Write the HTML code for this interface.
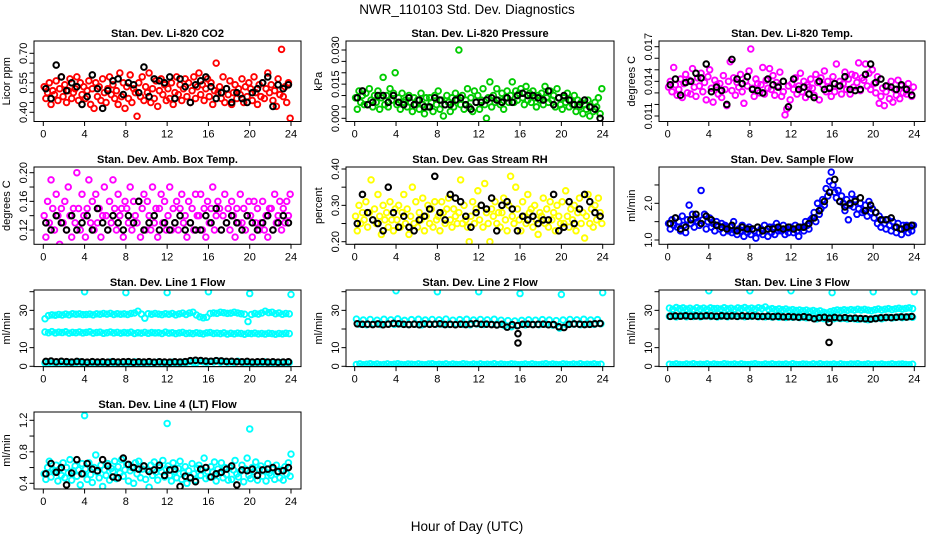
<!DOCTYPE html>
<html><head><meta charset="utf-8"><title>NWR_110103 Std. Dev. Diagnostics</title>
<style>
html,body{margin:0;padding:0;background:#fff;}
svg{display:block;font-family:"Liberation Sans",Arial,sans-serif;}
</style></head>
<body>
<svg id="chart" width="936" height="540" viewBox="0 0 936 540" xmlns="http://www.w3.org/2000/svg">
<rect x="0" y="0" width="936" height="540" fill="#fff"/>
<text x="467" y="14" font-size="13.5" text-anchor="middle">NWR_110103  Std. Dev. Diagnostics</text>
<text x="467" y="531" font-size="13.5" text-anchor="middle">Hour of Day (UTC)</text>
</svg>
<script>
// ---------- data ----------
const hourTicks = [0,4,8,12,16,20,24];
const spikeHours = [4,8,12,16,20,24];

const co2Color = [.53,.47,.50,.55,.44,.51,.49,.56,.46,.52,.58,.48,.54,.45,.51,.57,.47,.50,.52,.58,.46,.55,.49,.53,.47,.51,.56,.44,.52,.42,.55,.48,.53,.46,.57,.50,.45,.52,.58,.49,.54,.47,.51,.44,.60,.48,.55,.42,.53,.47,.59,.45,.52,.50,.38,.55,.48,.58,.46,.53,.50,.60,.45,.52,.47,.56,.43,.51,.57,.49,.54,.46,.52,.47,.55,.44,.50,.58,.49,.54,.46,.52,.57,.48,.55,.45,.51,.58,.47,.53,.60,.49,.54,.46,.52,.57,.48,.55,.44,.51,.65,.50,.53,.47,.58,.45,.52,.49,.56,.44,.50,.54,.47,.52,.49,.57,.45,.53,.48,.55,.52,.46,.58,.50,.44,.54,.48,.55,.47,.52,.60,.50,.54,.46,.51,.43,.57,.49,.72,.48,.53,.45,.55,.37];
const co2Black = [.52,.47,.64,.58,.51,.55,.53,.44,.48,.59,.52,.42,.51,.56,.57,.49,.55,.54,.50,.63,.48,.57,.56,.55,.58,.47,.57,.53,.45,.54,.56,.58,.53,.47,.50,.52,.45,.50,.47,.45,.50,.52,.55,.58,.43,.54,.52,.54];

const presColor = [.009,.004,.012,.007,.010,.006,.011,.006,.013,.008,.005,.010,.007,.012,.004,.009,.018,.006,.010,.005,.013,.008,.011,.020,.006,.009,.004,.011,.007,.008,.005,.010,.007,.003,.009,.006,.008,.004,.011,.006,.002,.009,.005,.009,.007,.003,.010,.006,.012,.004,.008,.001,.006,.010,.007,.003,.009,.005,.011,.008,.030,.006,.010,.004,.008,.013,.005,.009,.003,.012,.007,.010,.004,.008,.013,.006,.000,.009,.016,.005,.010,.007,.013,.008,.006,.011,.004,.009,.012,.007,.010,.016,.007,.012,.008,.011,.013,.009,.006,.014,.008,.011,.007,.012,.009,.005,.010,.008,.011,.006,.014,.009,.007,.012,.008,.010,.005,.013,.009,.006,.004,.009,.007,.011,.005,.008,.006,.010,.003,.008,.005,.007,.002,.006,.004,.008,.001,.005,.003,.007,.005,.009,.002,.013];
const presBlack = [.009,.012,.006,.007,.010,.010,.007,.010,.007,.006,.009,.006,.008,.005,.005,.009,.008,.006,.006,.008,.009,.006,.004,.007,.007,.008,.009,.008,.007,.009,.007,.010,.011,.010,.010,.009,.008,.012,.006,.009,.010,.008,.006,.006,.008,.005,.004,.000];

const tempColor = [.0135,.0140,.0131,.0152,.0137,.0128,.0133,.0142,.0126,.0138,.0146,.0130,.0141,.0129,.0151,.0135,.0127,.0143,.0136,.0147,.0131,.0139,.0124,.0144,.0150,.0134,.0122,.0141,.0137,.0129,.0138,.0126,.0145,.0133,.0119,.0140,.0157,.0132,.0143,.0128,.0139,.0135,.0146,.0131,.0121,.0140,.0136,.0149,.0168,.0134,.0127,.0142,.0138,.0130,.0137,.0152,.0129,.0141,.0134,.0151,.0133,.0145,.0128,.0139,.0136,.0148,.0127,.0131,.0111,.0116,.0136,.0124,.0138,.0133,.0143,.0129,.0136,.0147,.0131,.0140,.0126,.0137,.0135,.0142,.0134,.0128,.0146,.0139,.0124,.0143,.0137,.0149,.0131,.0140,.0135,.0127,.0144,.0131,.0155,.0136,.0140,.0129,.0138,.0148,.0133,.0142,.0129,.0146,.0135,.0145,.0139,.0156,.0132,.0143,.0141,.0155,.0136,.0147,.0133,.0150,.0138,.0130,.0144,.0121,.0127,.0134,.0119,.0131,.0136,.0125,.0140,.0122,.0133,.0128,.0141,.0125,.0136,.0130,.0134,.0129,.0138,.0131,.0127,.0135];
const tempBlack = [.0137,.0142,.0128,.0139,.0140,.0147,.0143,.0155,.0131,.0135,.0132,.0120,.0159,.0142,.0138,.0144,.0133,.0132,.0130,.0142,.0137,.0135,.0140,.0118,.0142,.0133,.0135,.0129,.0126,.0140,.0133,.0134,.0138,.0136,.0144,.0133,.0132,.0133,.0146,.0155,.0139,.0142,.0136,.0135,.0133,.0137,.0133,.0128];

const ambColor = [.14,.11,.16,.13,.19,.15,.12,.17,.14,.10,.15,.13,.16,.12,.18,.14,.11,.15,.13,.20,.15,.12,.17,.14,.11,.15,.19,.13,.16,.12,.17,.13,.15,.11,.14,.18,.14,.12,.16,.13,.19,.15,.12,.17,.14,.15,.11,.16,.15,.13,.18,.12,.16,.14,.13,.16,.11,.15,.17,.12,.16,.14,.12,.18,.13,.15,.11,.15,.17,.13,.16,.12,.14,.18,.12,.15,.13,.16,.12,.15,.17,.13,.14,.11,.16,.13,.15,.12,.17,.14,.14,.17,.12,.15,.11,.16,.13,.15,.18,.12,.14,.16,.15,.12,.14,.17,.13,.15,.12,.16,.14,.11,.15,.13,.17,.13,.15,.12,.14,.16,.14,.11,.16,.13,.15,.12,.13,.16,.12,.14,.11,.15,.15,.12,.17,.13,.14,.16,.12,.15,.13,.16,.14,.17];
const ambBlack = [.13,.12,.14,.13,.12,.14,.12,.13,.14,.12,.15,.13,.12,.14,.13,.12,.14,.13,.16,.12,.13,.14,.12,.13,.12,.13,.14,.12,.13,.12,.12,.14,.13,.15,.12,.13,.14,.13,.12,.14,.13,.12,.13,.14,.12,.13,.14,.13];

const rhColor = [.27,.23,.30,.25,.28,.26,.31,.24,.28,.37,.26,.29,.25,.33,.27,.22,.30,.26,.28,.24,.31,.26,.23,.29,.26,.30,.24,.28,.33,.25,.29,.22,.27,.35,.25,.31,.24,.28,.26,.32,.23,.27,.30,.25,.29,.24,.31,.26,.27,.23,.31,.28,.25,.29,.32,.26,.24,.29,.27,.25,.28,.37,.25,.30,.26,.24,.20,.27,.31,.25,.29,.34,.26,.30,.24,.36,.28,.25,.20,.29,.27,.31,.25,.28,.24,.28,.32,.26,.23,.30,.38,.27,.25,.35,.29,.26,.23,.31,.27,.25,.33,.28,.29,.24,.30,.26,.22,.28,.27,.32,.25,.29,.24,.31,.26,.28,.23,.30,.27,.25,.31,.25,.34,.27,.24,.29,.26,.30,.23,.28,.32,.25,.28,.21,.27,.33,.25,.29,.24,.30,.26,.32,.28,.25];
const rhBlack = [.25,.33,.28,.26,.25,.23,.35,.28,.24,.27,.24,.23,.26,.27,.29,.38,.28,.26,.33,.32,.31,.27,.24,.28,.30,.29,.32,.23,.30,.31,.29,.23,.27,.26,.27,.25,.26,.26,.33,.23,.24,.31,.25,.29,.33,.31,.28,.27];

const flowColor = [1.45,1.30,1.55,1.40,1.60,1.35,1.50,1.25,1.65,1.40,1.20,1.55,1.95,1.45,1.70,1.35,1.60,1.50,1.40,2.35,1.55,1.70,1.30,1.50,1.60,1.35,1.45,1.25,1.50,1.40,1.30,1.45,1.20,1.40,1.35,1.25,1.35,1.20,1.50,1.25,1.15,1.30,1.25,1.40,1.10,1.30,1.20,1.35,1.15,1.30,1.25,1.05,1.35,1.20,1.30,1.15,1.40,1.25,1.10,1.35,1.20,1.35,1.15,1.45,1.25,1.30,1.25,1.40,1.15,1.30,1.20,1.35,1.30,1.20,1.40,1.25,1.10,1.35,1.35,1.25,1.50,1.40,1.30,1.55,1.60,1.75,1.50,2.00,1.70,1.85,2.10,1.95,2.40,2.20,2.60,2.85,2.50,2.30,2.15,2.35,2.05,2.20,2.00,1.80,2.10,1.55,1.95,2.25,1.90,2.10,1.70,1.85,2.00,1.75,1.80,1.95,1.65,2.05,1.75,1.85,1.60,1.75,1.45,1.65,1.35,1.55,1.45,1.30,1.55,1.40,1.25,1.50,1.35,1.20,1.45,1.30,1.15,1.40,1.30,1.40,1.20,1.35,1.25,1.40];
const flowBlack = [1.45,1.60,1.30,1.35,1.55,1.70,1.45,1.65,1.55,1.40,1.35,1.30,1.40,1.25,1.35,1.30,1.30,1.35,1.25,1.30,1.30,1.35,1.30,1.35,1.30,1.35,1.35,1.45,1.60,1.80,2.05,2.30,2.65,2.05,1.90,2.00,2.05,2.15,1.80,1.95,1.75,1.55,1.55,1.60,1.35,1.30,1.35,1.40];

const l1High = [25.5,27.2,27.6,27.4,27.8,27.5,28.0,27.6,28.2,27.9,28.1,27.7,27.8,28.0,27.6,28.1,27.9,28.3,28.0,28.4,27.8,28.2,27.9,28.1,27.8,28.3,28.6,29.5,28.0,25.8,28.2,27.9,28.3,28.0,27.7,28.2,27.9,28.3,27.6,28.1,28.5,27.8,28.6,29.0,27.5,26.5,26.0,26.3,28.3,28.6,28.4,29.0,28.7,28.4,28.5,29.0,28.6,28.2,27.9,24.0,27.8,28.3,28.0,28.6,29.5,28.8,29.0,28.2,28.6,27.9,28.3,28.1];
const l1Mid = [18.4,18.0,18.6,17.9,18.3,18.1,18.5,17.8,18.2,18.0,18.4,17.9,18.2,18.5,17.8,18.1,18.3,17.7,18.0,18.4,17.9,18.2,17.8,18.1,17.9,18.3,17.6,18.0,17.8,18.2,17.7,18.1,17.9,18.0,17.6,18.3,17.8,18.0,17.5,17.9,18.2,17.6,17.8,17.5,18.0,17.7,17.4,17.9,18.1,17.6,17.8,17.5,17.9,17.3,17.7,17.4,17.8,17.6,17.2,17.7,17.5,17.8,17.4,17.6,17.3,17.7,17.5,17.2,17.6,17.4,17.7,17.5];
const l1Low = [1.8,2.2,1.5,2.0,1.6,2.3,1.7,2.1,1.5,1.9,2.4,1.6,2.0,1.7,2.2,1.5,1.9,2.1,1.6,2.3,1.8,2.0,1.5,2.2,1.7,1.9,2.4,1.6,2.0,1.8,2.1,1.5,1.9,2.3,1.7,2.0,1.6,2.2,1.8,1.5,2.1,1.9,2.6,2.2,2.0,2.8,2.4,2.1,2.6,2.3,2.9,2.2,2.5,2.1,2.4,2.0,2.7,2.3,1.9,2.2,2.0,1.7,2.1,1.8,2.3,1.6,2.0,1.9,1.7,2.2,1.8,2.0];
const l1Spike = [40,39.5,39.5,40,39,38.5];
const l1Black = [2.6,2.8,2.4,2.7,2.5,2.3,2.6,2.4,2.2,2.5,2.3,2.4,2.2,2.5,2.3,2.4,2.5,2.2,2.4,2.3,2.5,2.2,2.4,2.3,2.2,2.4,2.3,2.5,3.0,3.2,3.1,2.8,2.7,3.0,2.9,2.6,2.7,2.5,2.4,2.6,2.3,2.4,2.5,2.3,2.4,2.2,2.3,2.4];

const l2High = [25.3,22.6,24.8,22.3,25.1,22.9,24.7,22.4,25.2,22.7,24.9,22.5,25.4,22.8,24.6,22.4,25.0,22.6,25.2,22.3,24.8,22.9,25.1,22.5,24.9,22.6,25.3,22.4,24.7,22.8,25.0,22.5,25.2,22.3,24.8,22.7,25.1,22.4,24.9,22.6,25.2,22.3,24.7,21.8,24.5,21.2,24.3,22.0,24.6,22.2,24.9,22.5,24.7,22.3,25.0,22.6,24.8,22.1,24.5,20.5,24.8,22.4,25.1,22.6,24.9,22.3,25.2,22.7,24.8,22.5,25.0,22.8];
const l2Low = [1.0,1.3,0.8,1.1,1.4,0.9,1.2,0.8,1.0,1.3,0.9,1.1,1.4,1.0,0.8,1.2,1.1,0.9,1.3,1.0,0.8,1.2,1.4,0.9,1.1,1.0,1.3,0.8,1.2,1.0,0.9,1.4,1.1,0.8,1.2,1.0,1.3,0.9,1.1,1.0,1.4,0.8,1.2,1.0,0.9,1.3,1.1,0.8,1.0,1.2,0.9,1.3,1.0,0.8,1.1,1.4,0.9,1.2,1.0,0.8,1.3,1.1,0.9,1.2,1.0,1.4,0.8,1.1,1.0,1.3,0.9,1.1];
const l2Spike = [40.5,40,40,39,38.5,39.5];
const l2Black = [22.8,22.5,22.6,22.4,22.7,22.3,22.6,23.0,22.8,22.5,22.4,22.6,22.3,22.7,22.5,22.6,22.8,22.4,22.5,22.3,22.6,22.4,22.7,22.9,22.5,22.6,22.4,22.2,22.5,21.0,22.3,21.8,22.5,22.6,22.4,22.5,22.6,22.3,22.4,21.2,20.8,22.5,22.7,22.6,22.4,22.5,22.8,23.0];
const l2BlackExtraHours = [15.8,15.8];
const l2BlackExtra = [17.5,12.5];

const l3Top = [31.2,30.6,31.5,30.9,31.3,30.7,31.1,30.5,31.4,30.8,31.2,30.6,31.3,30.9,31.0,30.7,31.4,30.8,31.1,30.6,31.3,30.9,31.5,30.8,31.2,30.7,31.4,31.0,31.8,30.6,30.9,30.4,30.8,30.3,30.7,30.1,30.4,29.9,30.2,29.8,30.1,29.6,29.9,29.4,29.7,29.0,28.6,29.3,29.8,30.2,29.9,30.3,30.0,30.4,30.1,30.6,30.2,30.5,30.1,29.8,30.3,30.7,30.2,30.6,30.9,30.4,30.8,31.1,30.7,31.0,31.3,30.9];
const l3Band = [26.8,27.1,26.5,26.9,27.2,26.6,27.0,26.7,27.1,26.6,26.9,27.2,26.7,27.0,26.5,26.8,27.1,26.6,26.9,27.2,26.7,27.0,26.6,26.9,26.8,27.1,26.6,26.9,26.5,26.8,26.4,26.7,26.3,26.6,26.2,26.5,26.3,26.6,26.1,26.4,26.0,26.3,25.8,25.4,25.9,25.6,25.2,25.8,25.5,25.9,25.6,25.8,25.4,25.7,25.5,25.2,25.6,25.3,25.0,25.4,25.6,25.9,25.5,26.0,26.3,25.9,26.2,26.5,26.1,26.4,26.6,26.3];
const l3Low = [1.1,0.9,1.3,1.0,0.8,1.2,1.0,1.4,0.9,1.1,1.0,1.3,0.8,1.2,1.0,0.9,1.4,1.1,1.0,1.2,0.8,1.3,1.0,0.9,1.1,1.4,1.0,0.8,1.2,1.0,1.3,0.9,1.1,1.0,1.2,0.8,1.4,1.0,0.9,1.2,1.1,0.8,1.3,1.0,1.4,0.9,1.1,1.0,1.2,0.8,1.3,1.0,0.9,1.2,1.1,1.4,0.8,1.0,1.3,0.9,1.1,1.0,1.2,0.8,1.0,1.3,0.9,1.1,1.2,1.0,0.8,1.1];
const l3Spike = [40.5,40.5,40.5,39.5,40,40];
const l3Black = [26.8,27.0,26.9,27.1,26.8,27.0,26.9,27.1,27.0,26.8,27.1,26.9,27.0,26.8,27.1,26.9,27.0,26.8,26.7,26.9,26.6,26.8,26.5,26.6,26.5,26.3,26.6,26.2,25.5,26.0,26.3,25.8,26.2,25.9,26.1,25.7,25.8,25.6,25.5,25.3,25.6,26.0,26.2,26.1,26.3,26.5,26.4,26.7];
const l3BlackExtraHours = [15.7,15.7];
const l3BlackExtra = [23.5,12.8];

const l4Color = [.52,.45,.60,.68,.48,.57,.55,.63,.43,.58,.50,.66,.47,.60,.53,.70,.44,.56,.62,.49,.57,.38,.65,.52,.58,.45,.66,.51,.41,.60,.76,.54,.47,.63,.36,.57,.50,.65,.44,.59,.55,.68,.46,.61,.53,.70,.49,.57,.64,.43,.56,.60,.40,.66,.52,.68,.47,.58,.62,.45,.57,.35,.63,.50,.67,.54,.44,.60,.55,.69,.48,.58,.62,.50,.43,.66,.55,.47,.59,.68,.45,.53,.61,.40,.56,.48,.65,.52,.44,.59,.63,.50,.57,.72,.46,.55,.48,.61,.54,.67,.43,.58,.53,.66,.47,.60,.51,.44,.60,.45,.57,.69,.52,.48,.55,.63,.42,.58,.72,.50,.46,.60,.55,.67,.44,.58,.62,.49,.56,.43,.65,.53,.50,.58,.45,.63,.54,.47,.57,.44,.61,.52,.66,.49];
const l4Spike = [1.26,1.16,1.09,0.77];
const l4SpikeHours = [4,12,20,24];
const l4Black = [.52,.65,.54,.60,.38,.53,.70,.52,.65,.58,.56,.70,.62,.48,.47,.72,.64,.60,.58,.62,.55,.57,.63,.50,.57,.58,.36,.49,.47,.42,.58,.60,.48,.52,.54,.58,.62,.38,.57,.56,.58,.50,.57,.58,.60,.55,.56,.60];

// ---------- layout ----------
const svg = document.getElementById('chart');
const NS = 'http://www.w3.org/2000/svg';
const COLS = [{l:34,r:301,h0:43.3,h24:291},{l:346,r:614,h0:354.7,h24:602.7},{l:659,r:925,h0:667.7,h24:914.3}];
const ROWS = [{t:41,b:121.5},{t:167,b:244.3},{t:290,b:366.6},{t:412,b:489}];

function mk(tag, attrs, parent){
  const e = document.createElementNS(NS, tag);
  for (const k in attrs) e.setAttribute(k, attrs[k]);
  (parent||svg).appendChild(e);
  return e;
}

function panel(cfg){
  const c = COLS[cfg.col], r = ROWS[cfg.row];
  const g = mk('g', {});
  
  
  const xs = h => c.h0 + (h/24)*(c.h24 - c.h0);
  const ys = v => cfg.p1 + (v - cfg.v1)*(cfg.p2 - cfg.p1)/(cfg.v2 - cfg.v1);

  const clip = mk('clipPath', {id:'clip-'+cfg.name}, g);
  mk('rect', {x:c.l, y:r.t, width:c.r-c.l, height:r.b-r.t}, clip);

  const pts = mk('g', {'clip-path':'url(#clip-'+cfg.name+')'}, g);
  
  
  cfg.series.forEach(s => {
    const n = s.vals.length;
    const isBlack = s.color === '#000000';
    s.vals.forEach((v,i) => {
      const h = s.hours ? s.hours[i] : (i+0.5)*24/n;
      const dot = mk('circle', {cx:xs(h).toFixed(2), cy:ys(v).toFixed(2), r:2.8, fill:'none', stroke:s.color, 'stroke-width':isBlack?2.0:1.9}, pts);
      
      
    });
  });

  const box = mk('rect', {x:c.l, y:r.t, width:c.r-c.l, height:r.b-r.t, fill:'none', stroke:'#000', 'stroke-width':1}, g);
  
  

  const xa = mk('g', {}, g);
  
  
  mk('line', {x1:xs(0), x2:xs(24), y1:r.b, y2:r.b, stroke:'#000'}, xa);
  hourTicks.forEach(h => {
    mk('line', {x1:xs(h), x2:xs(h), y1:r.b, y2:r.b+4.5, stroke:'#000'}, xa);
    const t = mk('text', {x:xs(h), y:r.b+16, 'font-size':11, 'text-anchor':'middle'}, xa);
    
    
    t.textContent = h;
  });

  const ya = mk('g', {}, g);
  
  
  const tk = cfg.ticks;
  mk('line', {x1:c.l, x2:c.l, y1:ys(tk[0]), y2:ys(tk[tk.length-1]), stroke:'#000'}, ya);
  tk.forEach(v => mk('line', {x1:c.l-4.5, x2:c.l, y1:ys(v), y2:ys(v), stroke:'#000'}, ya));
  cfg.labels.forEach((lab,i) => {
    const yy = ys(cfg.labelVals[i]);
    const t = mk('text', {x:c.l-7, y:yy, 'font-size':11, 'text-anchor':'middle', transform:'rotate(-90 '+(c.l-7)+' '+yy+')'}, ya);
    
    
    t.textContent = lab;
  });
  const ym = (r.t + r.b)/2;
  const yt = mk('text', {x:c.l-24, y:ym, 'font-size':11, 'text-anchor':'middle', transform:'rotate(-90 '+(c.l-24)+' '+ym+')'}, g);
  
  
  yt.textContent = cfg.ylab;

  const tt = mk('text', {x:(c.l+c.r)/2, y:r.t-4, 'font-size':11, 'font-weight':'bold', 'text-anchor':'middle'}, g);
  
  
  tt.textContent = cfg.title;
}

const RED='#ff0000', GRN='#00cc00', MAG='#ff00ff', YEL='#ffff00', BLU='#0000ff', CYN='#00ffff', BLK='#000000';

panel({name:'co2', col:0, row:0, title:'Stan. Dev. Li-820 CO2', ylab:'Licor ppm', v1:0.70, p1:53.3, v2:0.40, p2:112.3,
  ticks:[0.40,0.45,0.50,0.55,0.60,0.65,0.70], labels:['0.40','0.55','0.70'], labelVals:[0.40,0.55,0.70],
  series:[{name:'co2-all',vals:co2Color,color:RED},{name:'co2-hourly',vals:co2Black,color:BLK}]});
panel({name:'pressure', col:1, row:0, title:'Stan. Dev. Li-820 Pressure', ylab:'kPa', v1:0.030, p1:50, v2:0.000, p2:118.3,
  ticks:[0,0.005,0.010,0.015,0.020,0.025,0.030], labels:['0.000','0.015','0.030'], labelVals:[0,0.015,0.030],
  series:[{name:'pressure-all',vals:presColor,color:GRN},{name:'pressure-hourly',vals:presBlack,color:BLK}]});
panel({name:'li820-temp', col:2, row:0, title:'Stan. Dev. Li-820 Temp.', ylab:'degrees C', v1:0.017, p1:46.7, v2:0.011, p2:116,
  ticks:[0.011,0.012,0.013,0.014,0.015,0.016,0.017], labels:['0.011','0.014','0.017'], labelVals:[0.011,0.014,0.017],
  series:[{name:'temp-all',vals:tempColor,color:MAG},{name:'temp-hourly',vals:tempBlack,color:BLK}]});
panel({name:'amb-box-temp', col:0, row:1, title:'Stan. Dev. Amb. Box Temp.', ylab:'degrees C', v1:0.20, p1:172.7, v2:0.12, p2:230,
  ticks:[0.12,0.14,0.16,0.18,0.20], labels:['0.12','0.16','0.20'], labelVals:[0.12,0.16,0.20],
  series:[{name:'amb-all',vals:ambColor,color:MAG},{name:'amb-hourly',vals:ambBlack,color:BLK}]});
panel({name:'gas-rh', col:1, row:1, title:'Stan. Dev. Gas Stream RH', ylab:'percent', v1:0.40, p1:169, v2:0.20, p2:241.7,
  ticks:[0.20,0.25,0.30,0.35,0.40], labels:['0.20','0.30','0.40'], labelVals:[0.20,0.30,0.40],
  series:[{name:'rh-all',vals:rhColor,color:YEL},{name:'rh-hourly',vals:rhBlack,color:BLK}]});
panel({name:'sample-flow', col:2, row:1, title:'Stan. Dev. Sample Flow', ylab:'ml/min', v1:2.0, p1:203.3, v2:1.0, p2:240,
  ticks:[1.0,1.5,2.0,2.5], labels:['1.0','2.0'], labelVals:[1.0,2.0],
  series:[{name:'flow-all',vals:flowColor,color:BLU},{name:'flow-hourly',vals:flowBlack,color:BLK}]});
panel({name:'line1-flow', col:0, row:2, title:'Stan. Dev. Line 1 Flow', ylab:'ml/min', v1:40, p1:291.7, v2:0, p2:366.3,
  ticks:[0,10,20,30,40], labels:['0','10','30'], labelVals:[0,10,30],
  series:[{name:'line1-high',vals:l1High,color:CYN},{name:'line1-mid',vals:l1Mid,color:CYN},{name:'line1-low',vals:l1Low,color:CYN},
          {name:'line1-spike',vals:l1Spike,hours:spikeHours,color:CYN},{name:'line1-hourly',vals:l1Black,color:BLK}]});
panel({name:'line2-flow', col:1, row:2, title:'Stan. Dev. Line 2 Flow', ylab:'ml/min', v1:40, p1:291.7, v2:0, p2:366.3,
  ticks:[0,10,20,30,40], labels:['0','10','30'], labelVals:[0,10,30],
  series:[{name:'line2-high',vals:l2High,color:CYN},{name:'line2-low',vals:l2Low,color:CYN},
          {name:'line2-spike',vals:l2Spike,hours:spikeHours,color:CYN},{name:'line2-hourly',vals:l2Black,color:BLK},
          {name:'line2-hourly-extra',vals:l2BlackExtra,hours:l2BlackExtraHours,color:BLK}]});
panel({name:'line3-flow', col:2, row:2, title:'Stan. Dev. Line 3 Flow', ylab:'ml/min', v1:40, p1:291.7, v2:0, p2:366.3,
  ticks:[0,10,20,30,40], labels:['0','10','30'], labelVals:[0,10,30],
  series:[{name:'line3-top',vals:l3Top,color:CYN},{name:'line3-band',vals:l3Band,color:CYN},{name:'line3-low',vals:l3Low,color:CYN},
          {name:'line3-spike',vals:l3Spike,hours:spikeHours,color:CYN},{name:'line3-hourly',vals:l3Black,color:BLK},
          {name:'line3-hourly-extra',vals:l3BlackExtra,hours:l3BlackExtraHours,color:BLK}]});
panel({name:'line4-flow', col:0, row:3, title:'Stan. Dev. Line 4 (LT) Flow', ylab:'ml/min', v1:1.2, p1:420.3, v2:0.4, p2:483.3,
  ticks:[0.4,0.6,0.8,1.0,1.2], labels:['0.4','0.8','1.2'], labelVals:[0.4,0.8,1.2],
  series:[{name:'line4-all',vals:l4Color,color:CYN},{name:'line4-spike',vals:l4Spike,hours:l4SpikeHours,color:CYN},
          {name:'line4-hourly',vals:l4Black,color:BLK}]});
</script>
</body></html>
